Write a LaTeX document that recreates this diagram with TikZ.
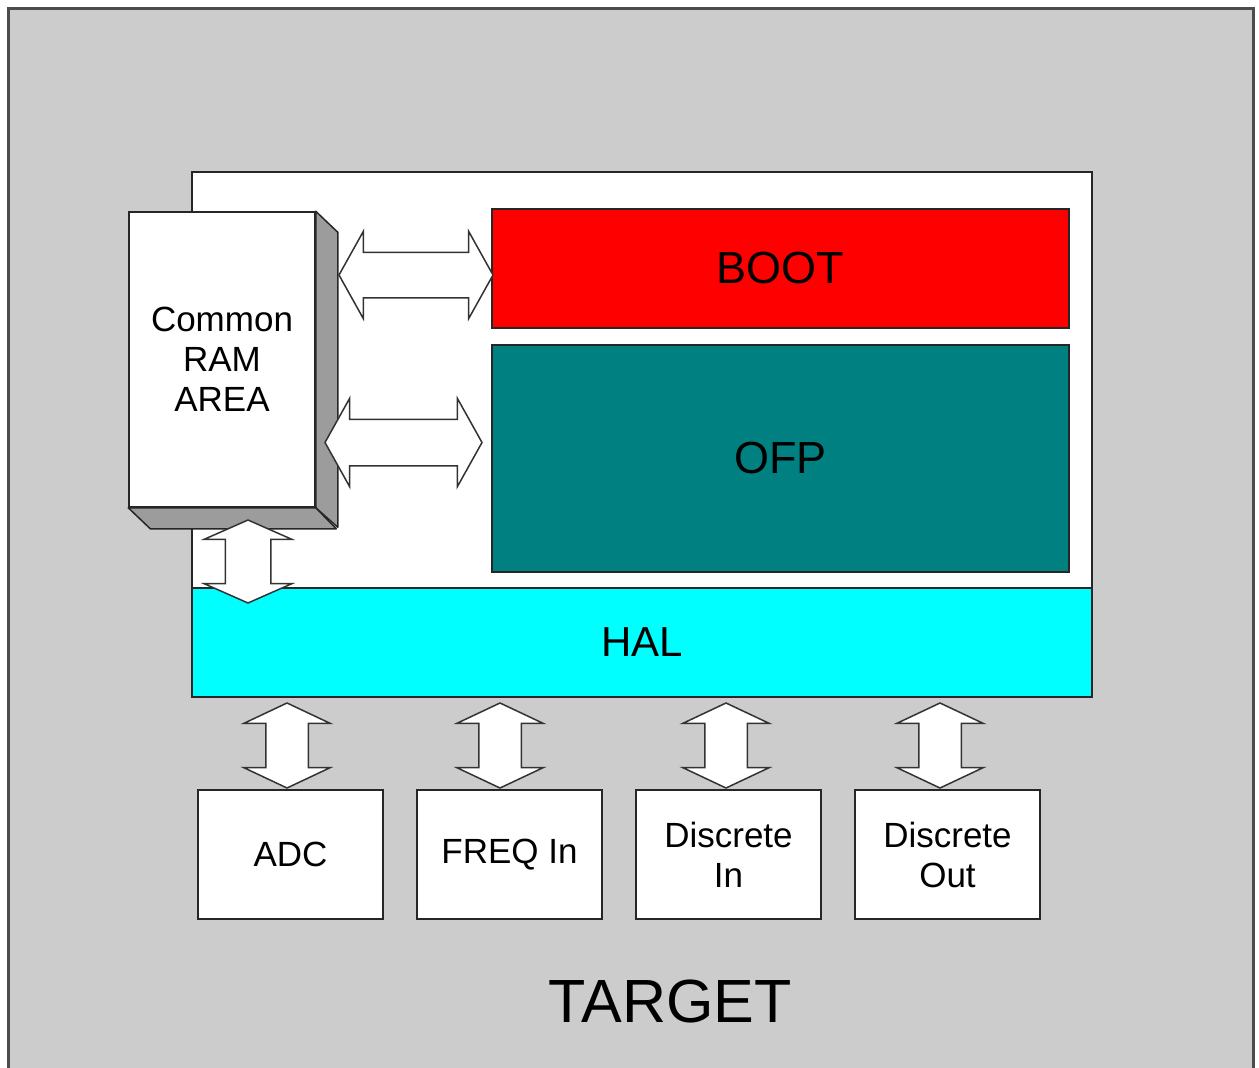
\documentclass[tikz,border=0pt]{standalone}
\usepackage{fontspec}
\setmainfont{Liberation Sans}
\usepackage{tikz}
\usepackage{xcolor}
\usetikzlibrary{shapes,arrows}
\definecolor{bggray}{HTML}{CCCCCC}
\definecolor{sidegray}{HTML}{9C9C9C}
\definecolor{bootred}{HTML}{FF0000}
\definecolor{ofpteal}{HTML}{008080}
\definecolor{halcyan}{HTML}{00FFFF}

\begin{document}
\begin{tikzpicture}[x=1pt, y=-1pt]
\tikzstyle{blk} = [draw=black!85, line width=1.5pt, inner sep=0pt, align=center]
\tikzstyle{io} = [blk, fill=white, minimum width=185, minimum height=129, font=\fontsize{35}{40}\selectfont]
\tikzstyle{dbl} = [double arrow, draw=black!80, line width=1.5pt, fill=white, inner xsep=0pt]
\tikzstyle{hdbl} = [dbl, inner ysep=22, minimum width=86, double arrow head extend=21, double arrow tip angle=121.7]
\tikzstyle{vdbl} = [dbl, rotate=90, inner ysep=20.5, minimum width=85, minimum height=85, double arrow head extend=22, double arrow tip angle=129.5]
\useasboundingbox (0,0) rectangle (1259,1068);
\node[blk, draw=black!70, line width=3pt, fill=bggray, minimum width=1245, minimum height=1072] (target) at (630.5,544) {};
\node[blk, fill=white, minimum width=900, minimum height=416] (core) at (642,380) {};
\node[blk, fill=halcyan, minimum width=900, minimum height=109, font=\fontsize{42}{48}\selectfont] (hal) at (642,642.5) {HAL};
\node[blk, fill=bootred, minimum width=577, minimum height=119, font=\fontsize{45}{50}\selectfont] (boot) at (780.5,268.5) {BOOT};
\node[blk, fill=ofpteal, minimum width=577, minimum height=227, font=\fontsize{45}{50}\selectfont] (ofp) at (780.5,458.5) {OFP};
\node[blk, fill=white, minimum width=186, minimum height=295, font=\fontsize{35}{40}\selectfont] (ram) at (222,359.5) {Common\\RAM\\AREA};
\filldraw[fill=sidegray, draw=black!85, line width=1.5pt, line join=round] (ram.north east) -- ++(22,21) -- ++(0,295) -- (ram.south east) -- cycle;
\filldraw[fill=sidegray, draw=black!85, line width=1.5pt, line join=round] (ram.south west) -- ++(22,21) -- ++(186,0) -- (ram.south east) -- cycle;
\node[hdbl, minimum height=154] (ramboot) at (416,275) {};
\node[hdbl, minimum height=157, inner ysep=22.5, minimum width=87] (ramofp) at (403.5,442.5) {};
\node[dbl, rotate=90, inner ysep=22, minimum width=86, minimum height=83, double arrow head extend=21, double arrow tip angle=132.4] (ramhal) at (248,561.5) {};
\node[io] (adc) at (290.5,854.5) {ADC};
\node[io] (freq) at (509.5,854.5) {FREQ In};
\node[io] (din) at (728.5,854.5) {Discrete\\In};
\node[io] (dout) at (947.5,854.5) {Discrete\\Out};
\node[vdbl] (haladc) at (287,745.5) {};
\node[vdbl] (halfreq) at (500,745.5) {};
\node[vdbl] (haldin) at (726,745.5) {};
\node[vdbl] (haldout) at (940,745.5) {};
\node[font=\fontsize{61}{66}\selectfont] (title) at (670,1001) {TARGET};
\end{tikzpicture}
\end{document}
